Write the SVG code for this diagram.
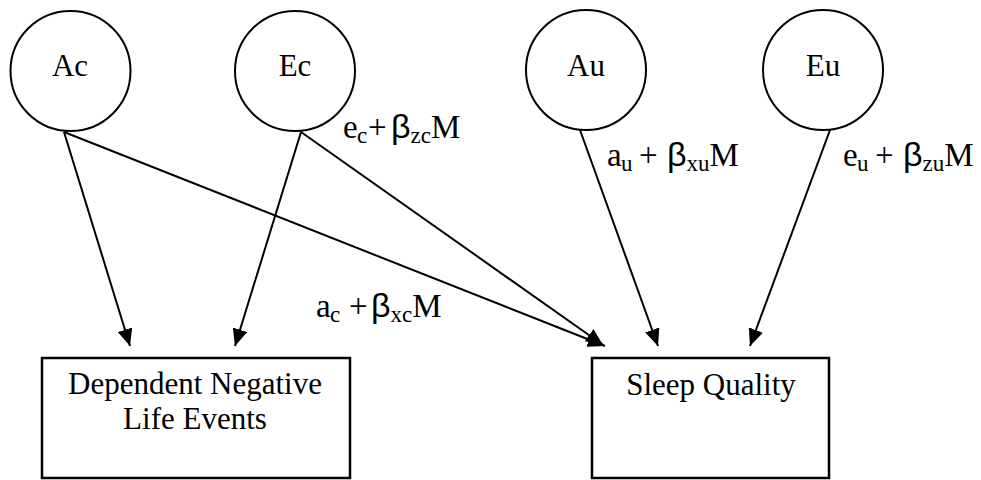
<svg xmlns="http://www.w3.org/2000/svg" width="981" height="480" viewBox="0 0 981 480">
<style>
.n{fill:#fff;stroke:#000;stroke-width:2}
.r{fill:#fff;stroke:#000;stroke-width:2.5}
.t{font-family:"Liberation Serif","Times New Roman",serif;font-size:31px;fill:#000}
.c{text-anchor:middle}
.l{font-family:"Liberation Serif","Times New Roman",serif;font-size:33px;fill:#000}
.s{font-size:23px}
.g{font-family:"Liberation Sans",Arial,sans-serif;font-size:34px}
.e{stroke:#000;stroke-width:2;fill:none;marker-end:url(#ah)}
</style>
<defs>
<marker id="ah" markerUnits="userSpaceOnUse" markerWidth="18" markerHeight="15" refX="17" refY="7.5" orient="auto" viewBox="0 0 18 15">
<path d="M0,0 L17,7.5 L0,15 z" fill="#000"/>
</marker>
</defs>
<rect width="981" height="480" fill="#fff"/>
<g id="connectors">
<line class="e" x1="64" y1="132" x2="130" y2="346"/>
<line class="e" x1="301" y1="132" x2="235" y2="346"/>
<line class="e" x1="64" y1="132" x2="605" y2="346"/>
<line class="e" x1="301" y1="132" x2="603" y2="345"/>
<line class="e" x1="580" y1="130" x2="658" y2="346"/>
<line class="e" x1="830" y1="130" x2="750" y2="346"/>
</g>
<g id="Ac"><circle class="n" cx="70.5" cy="71" r="60"/><text class="t c" x="70" y="76">Ac</text></g>
<g id="Ec"><circle class="n" cx="295" cy="71" r="60"/><text class="t c" x="295" y="76">Ec</text></g>
<g id="Au"><circle class="n" cx="586" cy="70" r="60"/><text class="t c" x="586" y="76">Au</text></g>
<g id="Eu"><circle class="n" cx="823" cy="70" r="60"/><text class="t c" x="823" y="76">Eu</text></g>
<g id="DNLE"><rect class="r" x="42" y="358" width="308" height="120"/><text class="t c" x="195" y="394">Dependent Negative</text><text class="t c" x="195" y="429">Life Events</text></g>
<g id="SQ"><rect class="r" x="592" y="358" width="237" height="120"/><text class="t c" x="711" y="395">Sleep Quality</text></g>
<g id="labels">
<text class="l" y="138"><tspan x="343">e</tspan><tspan class="s" x="357" y="143">c</tspan><tspan x="368" y="138">+</tspan><tspan class="g" x="391">β</tspan><tspan class="s" y="143">zc</tspan><tspan y="138">M</tspan></text>
<text class="l" y="166"><tspan x="607">a</tspan><tspan class="s" x="621" y="171">u</tspan><tspan x="639" y="166">+</tspan><tspan class="g" x="667">β</tspan><tspan class="s" y="171">xu</tspan><tspan y="166">M</tspan></text>
<text class="l" y="166"><tspan x="843">e</tspan><tspan class="s" x="857" y="171">u</tspan><tspan x="875" y="166">+</tspan><tspan class="g" x="903">β</tspan><tspan class="s" y="171">zu</tspan><tspan y="166">M</tspan></text>
<text class="l" y="317"><tspan x="316">a</tspan><tspan class="s" x="330" y="322">c</tspan><tspan x="349" y="317">+</tspan><tspan class="g" x="371">β</tspan><tspan class="s" y="322">xc</tspan><tspan y="317">M</tspan></text>
</g>
</svg>
